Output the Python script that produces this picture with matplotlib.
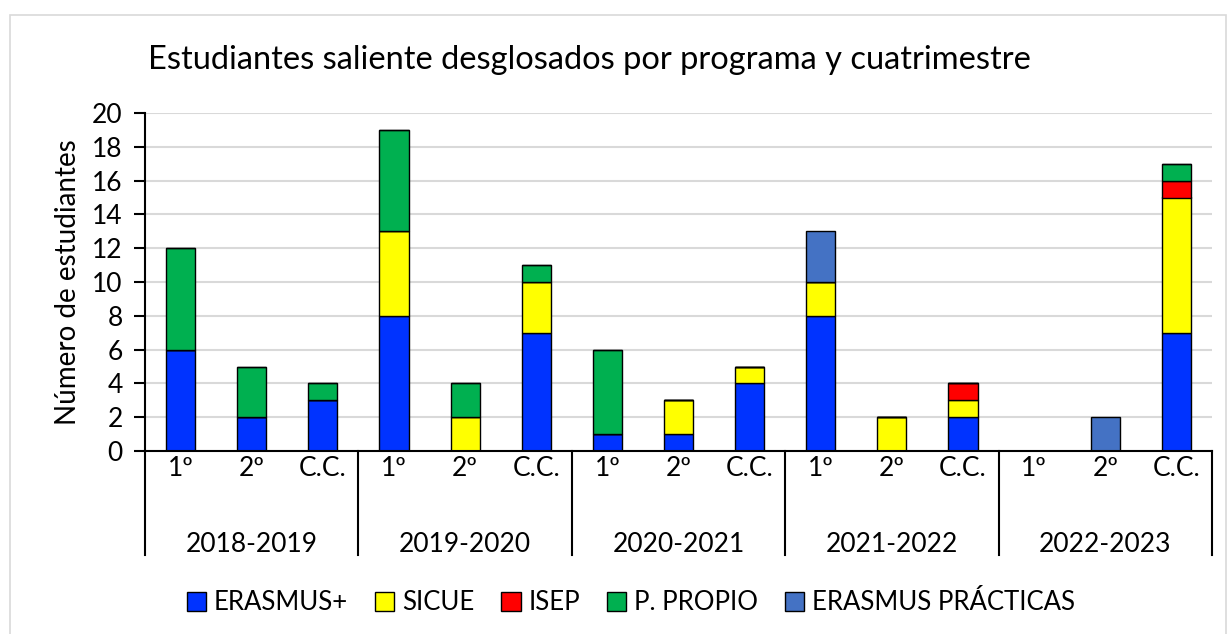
import matplotlib.pyplot as plt
from matplotlib.patches import Rectangle
import numpy as np

plt.rcParams['font.family'] = ['Lato', 'DejaVu Sans']

years = ['2018-2019', '2019-2020', '2020-2021', '2021-2022', '2022-2023']
terms = ['1º', '2º', 'C.C.']

# one value per bar: 1º, 2º, C.C. for each year
erasmus = [6, 2, 3, 8, 0, 7, 1, 1, 4, 8, 0, 2, 0, 0, 7]
sicue = [0, 0, 0, 5, 2, 3, 0, 2, 1, 2, 2, 1, 0, 0, 8]
isep = [0, 0, 0, 0, 0, 0, 0, 0, 0, 0, 0, 1, 0, 0, 1]
propio = [6, 3, 1, 6, 2, 1, 5, 0, 0, 0, 0, 0, 0, 0, 1]
practicas = [0, 0, 0, 0, 0, 0, 0, 0, 0, 3, 0, 0, 0, 2, 0]

series = [
    ('ERASMUS+', erasmus, '#0033FF'),
    ('SICUE', sicue, '#FFFF00'),
    ('ISEP', isep, '#FF0000'),
    ('P. PROPIO', propio, '#00B050'),
    ('ERASMUS PRÁCTICAS', practicas, '#4472C4'),
]

W, H = 1228, 634
fig = plt.figure(figsize=(W / 100, H / 100), dpi=100)

# light frame around chart area
fig.patches.append(Rectangle((10 / W, -0.05), (1216) / W, 1.05 - 15 / H,
                             transform=fig.transFigure, fill=False,
                             edgecolor='#D9D9D9', linewidth=1.2))

ax = fig.add_axes([145 / W, 1 - 451 / H, (1212 - 145) / W, (451 - 113) / H])

x = np.arange(len(erasmus))
bottom = np.zeros(len(x))
for name, vals, col in series:
    vals = np.array(vals, dtype=float)
    ax.bar(x, vals, 0.41, bottom=bottom, color=col, edgecolor='black',
           linewidth=1.0, label=name, zorder=3)
    bottom += vals

ax.set_xlim(-0.5, len(x) - 0.5)
ax.set_ylim(0, 20)
ax.set_yticks(range(0, 21, 2))
ax.tick_params(axis='y', labelsize=19, length=8, width=1.5, pad=8)
ax.set_xticks([])
ax.yaxis.grid(True, color='#D9D9D9', linewidth=1.5, zorder=0)
ax.set_axisbelow(True)
for s in ['top', 'right']:
    ax.spines[s].set_visible(False)
ax.spines['left'].set_linewidth(1.5)
ax.spines['bottom'].set_linewidth(1.5)
ax.spines['bottom'].set_zorder(4)

ax.set_ylabel('Número de estudiantes', fontsize=20, labelpad=8)

# multi-level category axis
tr = ax.get_xaxis_transform()
ybot = -(555 - 451) / (451 - 113)
for i in range(len(years) + 1):
    ax.plot([i * 3 - 0.5] * 2, [0, ybot], color='black', lw=1.5,
            transform=tr, clip_on=False)
for i in x:
    ax.text(i, -(468 - 451) / (451 - 113), terms[i % 3], transform=tr,
            ha='center', va='center', fontsize=19)
for j, yr in enumerate(years):
    ax.text(j * 3 + 1, -(545 - 451) / (451 - 113), yr, transform=tr,
            ha='center', va='center', fontsize=19)

fig.text(589 / W, 1 - 60 / H, 'Estudiantes saliente desglosados por programa y cuatrimestre',
         ha='center', va='center', fontsize=23.5)

fig.legend(loc='center', bbox_to_anchor=(631 / W, 1 - 603 / H), ncol=5,
           frameon=False, fontsize=18.5, handlelength=0.75, handleheight=0.75,
           handletextpad=0.3, columnspacing=1.05)

fig.savefig('out.png', dpi=100)
